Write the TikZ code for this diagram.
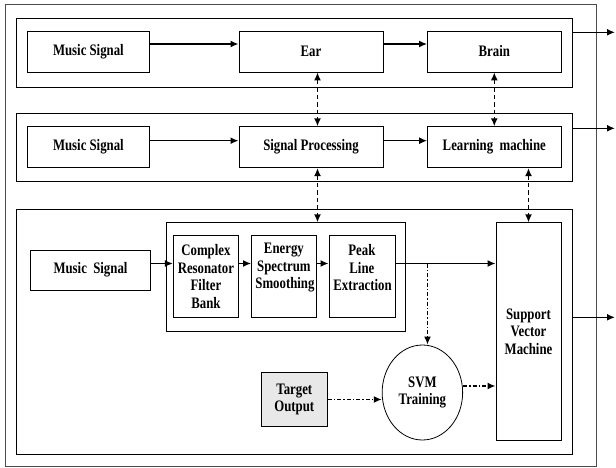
\documentclass[tikz,border=0pt]{standalone}
\usepackage{fontspec}
\setmainfont{Liberation Serif}[FakeStretch=0.8]
\usepackage{tikz}
\usetikzlibrary{arrows.meta,shapes.geometric}

\begin{document}
\begin{tikzpicture}[x=1pt, y=-1pt]
        % Define styles
        \tikzset{
            block/.style={rectangle, draw, line width=0.8pt, inner sep=0pt,
                font=\bfseries\fontsize{16}{17.5}\selectfont},
            panel/.style={rectangle, draw, line width=0.9pt, inner sep=0pt},
            target/.style={block, fill=gray!18},
            training/.style={ellipse, draw, line width=0.8pt, inner sep=0pt,
                font=\bfseries\fontsize{16}{17.5}\selectfont},
            arrow/.style={-{Latex[length=8pt,width=7pt]}, line width=1.5pt},
            dasharrow/.style={{Latex[length=8pt,width=7pt]}-{Latex[length=8pt,width=7pt]},
                line width=1.5pt, dash pattern=on 4.5pt off 3pt},
            dotarrow/.style={-{Latex[length=8pt,width=7pt]}, line width=1.5pt,
                dash pattern=on 4pt off 2pt on 1.5pt off 2pt}
        }
        \useasboundingbox (0,0) rectangle (616,468);

        % Frames
        \node[panel, draw=black!70, minimum width=590.6pt, minimum height=462.7pt] (outer_box) at (301.2,235.4) {};
        \node[panel, minimum width=556.4pt, minimum height=69pt] (panel_1) at (294.7,52.5) {};
        \node[panel, minimum width=556.4pt, minimum height=68pt] (panel_2) at (294.7,147) {};
        \node[panel, minimum width=556.4pt, minimum height=245pt] (panel_3) at (294.7,331.5) {};

        % Row 1
        \node[block, minimum width=121.8pt, minimum height=41pt] (music_node_1) at (88.4,51.5) {Music Signal};
        \node[block, minimum width=144.2pt, minimum height=41pt] (ear_node) at (311,51.5) {Ear};
        \node[block, minimum width=133.6pt, minimum height=41pt] (brain_node) at (494.3,51.5) {Brain};

        % Row 2
        \node[block, minimum width=121.8pt, minimum height=41pt] (music_node_2) at (88.4,147.2) {Music Signal};
        \node[block, minimum width=144.2pt, minimum height=41pt] (sp_node) at (311,147.2) {Signal Processing};
        \node[block, minimum width=133.6pt, minimum height=41pt] (lm_node) at (494.3,147.2) {Learning~ machine};

        % Row 3
        \node[block, minimum width=119.9pt, minimum height=40pt] (music_node_3) at (90.5,270) {Music~ Signal};
        \node[block, minimum width=239.3pt, minimum height=109pt] (group_node) at (285.8,277.2) {};
        \node[block, minimum width=65.2pt, minimum height=82pt] (crf_node) at (205.9,276.7) {\parbox{2cm}{\centering Complex\\ Resonator\\ Filter\\ Bank}};
        \node[block, minimum width=64.8pt, minimum height=82pt] (ess_node) at (283.9,276.7) {\parbox{2cm}{\centering Energy\\ Spectrum\\ Smoothing\\[17.5pt]}};
        \node[block, minimum width=66pt, minimum height=82pt] (ple_node) at (361.9,276.7) {\parbox{2cm}{\centering Peak\\ Line\\ Extraction\\[17.5pt]}};
        \node[block, minimum width=65.2pt, minimum height=217.3pt] (svm_node) at (528.5,331.4) {\parbox{2cm}{\centering Support\\ Vector\\ Machine}};
        \node[training, minimum width=74.7pt, minimum height=95pt] (train_node) at (422.4,392.5) {\parbox{2cm}{\centering SVM\\ Training}};
        \node[target, minimum width=66.5pt, minimum height=54.4pt] (target_node) at (294.3,399.5) {\parbox{2cm}{\centering Target\\ Output}};

        \coordinate (row_3) at (0,263.5);
        \coordinate (split) at (427.5,263.5);
        \coordinate (out_1) at (615,32.3);
        \coordinate (out_2) at (615,128.3);
        \coordinate (out_3) at (615,317.3);

        % Arrows
        \draw[arrow] ([yshift=7.5pt]music_node_1.east) -- ([yshift=7.5pt]ear_node.west);
        \draw[arrow] ([yshift=7.5pt]ear_node.east) -- ([yshift=7.5pt]brain_node.west);
        \draw[arrow] ([yshift=6.5pt]music_node_2.east) -- ([yshift=6.5pt]sp_node.west);
        \draw[arrow] ([yshift=6.5pt]sp_node.east) -- ([yshift=6.5pt]lm_node.west);
        \draw[arrow] (music_node_3.east |- row_3) -- (crf_node.west |- row_3);
        \draw[arrow] (crf_node.east |- row_3) -- (ess_node.west |- row_3);
        \draw[arrow] (ess_node.east |- row_3) -- (ple_node.west |- row_3);
        \draw[arrow] (ple_node.east |- row_3) -- (svm_node.west |- row_3);

        \draw[arrow] (panel_1.east |- out_1) -- (out_1);
        \draw[arrow] (panel_2.east |- out_2) -- (out_2);
        \draw[arrow] (panel_3.east |- out_3) -- (out_3);

        % Links between the levels
        \draw[dasharrow] ([xshift=6.5pt]ear_node.south) -- ([xshift=6.5pt]sp_node.north);
        \draw[dasharrow] (brain_node.south) -- (lm_node.north);
        \draw[dasharrow] ([xshift=6.5pt]sp_node.south) -- ([xshift=6.5pt]sp_node.south |- group_node.north);
        \draw[dasharrow] (svm_node.north |- lm_node.south) -- (svm_node.north);

        % Training
        \draw[dotarrow] (split) -- (split |- train_node.north);
        \draw[dotarrow] (target_node.east) -- (target_node.east -| train_node.west);
        \draw[dotarrow] ([yshift=6.5pt]train_node.east) -- ([yshift=6.5pt]train_node.east -| svm_node.west);
    \end{tikzpicture}
\end{document}
